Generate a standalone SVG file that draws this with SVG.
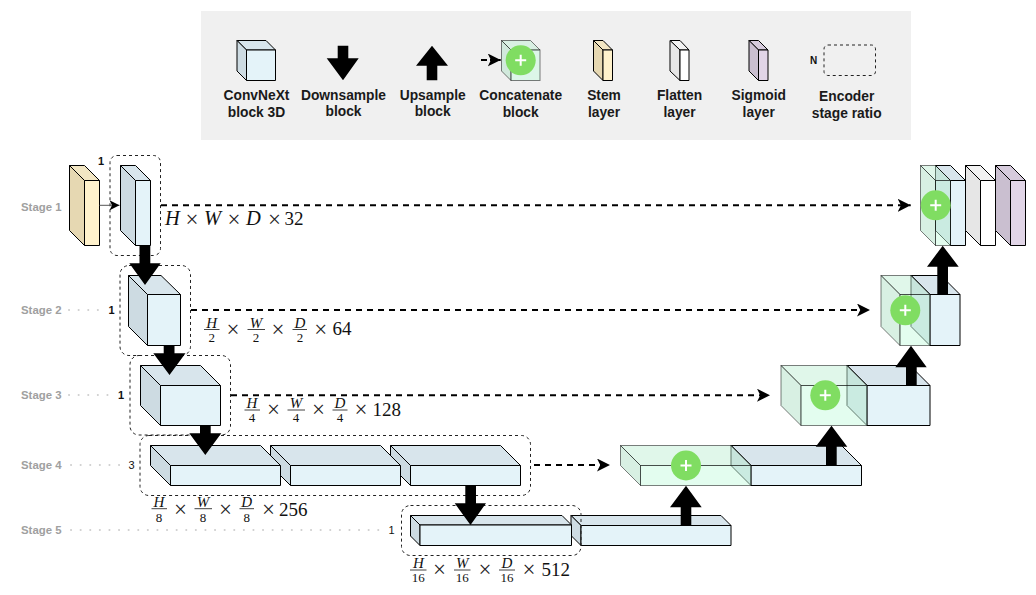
<svg xmlns="http://www.w3.org/2000/svg" width="1036" height="595" viewBox="0 0 1036 595">
<style>
text{font-family:"Liberation Sans",Arial,sans-serif}
.lg{font-size:13.8px;font-weight:bold;text-anchor:middle;fill:#1a1a1a}
.st{font-size:11.4px;font-weight:bold;fill:#a0a0a0}
.n{font-size:11px;font-weight:bold;text-anchor:middle;fill:#111}
.m,.mi,.mx,.f,.fi{font-family:"Liberation Serif","Times New Roman",serif;fill:#111}
.m{font-size:19px}
.mi{font-size:20.500px;font-style:italic}
.mx{font-size:23px;text-anchor:middle;fill:#222}
.f,.fi{text-anchor:middle}
.f{font-size:13px}
.fi{font-size:15px;font-style:italic}
.bar{stroke:#111;stroke-width:.8;fill:none}
.s{stroke:#000;stroke-width:1;stroke-linejoin:round}
.bf{fill:#e4f3f9}.bt{fill:#d8e5ec}.bl{fill:#cddbe2}
.sf{fill:#fff2cc}.st2{fill:#f2e6c3}.sl{fill:#e6d8b2}
.ff{fill:#fff}.ft{fill:#f2f2f2}.fl{fill:#e6e6e6}
.gf{fill:#e1d5e7}.gt{fill:#d6cbdc}.gl{fill:#cabfd0}
.c{stroke:#000;stroke-opacity:.5;stroke-width:1}
.cf{fill:#c7fbdf;fill-opacity:.5}.ct{fill:#c1efd5;fill-opacity:.5}.cl{fill:#b1e1c7;fill-opacity:.5}
.dot{fill:#80dd62}
.plus{stroke:#fff;stroke-width:2;fill:none}
.box{fill:none;stroke:#222;stroke-width:1;stroke-dasharray:3 3}
.dash{fill:none;stroke:#000;stroke-width:2;stroke-dasharray:6 5;marker-end:url(#stealth)}
.guide{fill:none;stroke:#cfcfcf;stroke-width:2;stroke-dasharray:.1 9.500;stroke-linecap:round}
.fat{fill:#000}
</style>
<defs>
<marker id="stealth" markerUnits="userSpaceOnUse" markerWidth="13" markerHeight="13" viewBox="0 0 12 12" refX="12" refY="6" orient="auto"><path d="M0 0L12 6L0 12L3 6z" fill="#000"/></marker>
<marker id="small" markerUnits="userSpaceOnUse" markerWidth="10" markerHeight="10" viewBox="0 0 10 10" refX="10" refY="5" orient="auto"><path d="M0 0L10 5L0 10L2.500 5z" fill="#000"/></marker>
</defs>

<g id="legend">
<rect x="201" y="11" width="710" height="129" fill="#f0f0f0"/>
<g id="legend-convnext" class="s">
<path class="bt" d="M237 40.500H266L275.500 50H246.500z"/><path class="bl" d="M237 40.500L246.500 50V80.500L237 71z"/><rect class="bf" x="246.500" y="50" width="29" height="30.500"/>
</g>
<text class="lg" x="256.500" y="100">ConvNeXt</text><text class="lg" x="256.500" y="116.500">block 3D</text>
<g id="legend-down"><path class="fat" d="M337.700 45.700H348.300V58.300H358.700L343 80.300L326.700 58.300H337.700z"/></g>
<text class="lg" x="343.500" y="99.500">Downsample</text><text class="lg" x="343.500" y="116">block</text>
<g id="legend-up"><path class="fat" d="M432 45.700L448 65.700H437.300V80.300H426.700V65.700H416z"/></g>
<text class="lg" x="432.700" y="99.500">Upsample</text><text class="lg" x="432.700" y="116">block</text>
<g id="legend-concat">
<path d="M481 60H500.700" fill="none" stroke="#000" stroke-width="2" stroke-dasharray="6 3" marker-end="url(#stealth)"/>
<g class="c"><path class="ct" d="M501.500 40.500H530.500L540 50H511z"/><path class="cl" d="M501.500 40.500L511 50V80.500L501.500 71z"/><rect class="cf" x="511" y="50" width="29" height="30.500"/></g>
<circle class="dot" cx="520.700" cy="60.300" r="15"/><path class="plus" d="M515.200 60.300H526.200M520.700 54.800V65.800"/>
</g>
<text class="lg" x="520.700" y="100">Concatenate</text><text class="lg" x="520.700" y="116.500">block</text>
<g id="legend-stem" class="s"><path class="st2" d="M593.500 40.500H603L612.500 50H603z"/><path class="sl" d="M593.500 40.500L603 50V80.500L593.500 71z"/><rect class="sf" x="603" y="50" width="9.500" height="30.500"/></g>
<text class="lg" x="604" y="100">Stem</text><text class="lg" x="604" y="116.500">layer</text>
<g id="legend-flatten" class="s"><path class="ft" d="M670 40.500H680L689 50H680z"/><path class="fl" d="M670 40.500L680 50V80.500L670 71z"/><rect class="ff" x="680" y="50" width="9" height="30.500"/></g>
<text class="lg" x="679.500" y="100">Flatten</text><text class="lg" x="679.500" y="116.500">layer</text>
<g id="legend-sigmoid" class="s"><path class="gt" d="M749 40.500H758.500L768 50H758.500z"/><path class="gl" d="M749 40.500L758.500 50V80.500L749 71z"/><rect class="gf" x="758.500" y="50" width="9.500" height="30.500"/></g>
<text class="lg" x="758.700" y="100">Sigmoid</text><text class="lg" x="758.700" y="116.500">layer</text>
<g id="legend-ratio"><rect class="box" x="824" y="45" width="51.500" height="30.500" rx="4"/><text class="n" x="813.500" y="63.500" style="font-size:10px">N</text></g>
<text class="lg" x="846.700" y="101">Encoder</text><text class="lg" x="846.700" y="117.500">stage ratio</text>
</g>

<g id="stage-labels">
<text class="st" x="21" y="210.500">Stage 1</text>
<text class="st" x="21" y="313.500">Stage 2</text>
<text class="st" x="21" y="399">Stage 3</text>
<text class="st" x="21" y="468.500">Stage 4</text>
<text class="st" x="21" y="533.500">Stage 5</text>
<path class="guide" d="M69 310H103M69 395H112M71 465H124M71 530H386"/>
<text class="n" x="101" y="165">1</text>
<text class="n" x="111.500" y="313.500">1</text>
<text class="n" x="121" y="399">1</text>
<text class="n" x="131.500" y="468.500" style="font-weight:normal">3</text>
<text class="n" x="391.500" y="533.500" style="font-weight:normal">1</text>
</g>

<g id="stem" class="s"><path class="st2" d="M69.500 165.500H84.500L99.500 180.500H84.500z"/><path class="sl" d="M69.500 165.500L84.500 180.500V245.500L69.500 230.500z"/><rect class="sf" x="84.500" y="180.500" width="15" height="65"/></g>
<g id="enc1" class="s"><path class="bt" d="M120.500 165.500H135.500L150.500 180.500H135.500z"/><path class="bl" d="M120.500 165.500L135.500 180.500V245.500L120.500 230.500z"/><rect class="bf" x="135.500" y="180.500" width="15" height="65"/></g>
<g id="enc2" class="s"><path class="bt" d="M128.500 275.500H161L180.500 294.500H147.500z"/><path class="bl" d="M128.500 275.500L147.500 294.500V345.500L128.500 326.500z"/><rect class="bf" x="147.500" y="294.500" width="33" height="51"/></g>
<g id="enc3" class="s"><path class="bt" d="M140.500 365.500H200.500L220.500 385.500H160.500z"/><path class="bl" d="M140.500 365.500L160.500 385.500V425.500L140.500 405.500z"/><rect class="bf" x="160.500" y="385.500" width="60" height="40"/></g>
<g id="enc4c" class="s"><path class="bt" d="M390.500 445.500H500.500L520.500 465.500H410.500z"/><path class="bl" d="M390.500 445.500L410.500 465.500V485.500L390.500 465.500z"/><rect class="bf" x="410.500" y="465.500" width="110" height="20"/></g>
<g id="enc4b" class="s"><path class="bt" d="M270.500 445.500H380.500L400.500 465.500H290.500z"/><path class="bl" d="M270.500 445.500L290.500 465.500V485.500L270.500 465.500z"/><rect class="bf" x="290.500" y="465.500" width="110" height="20"/></g>
<g id="enc4a" class="s"><path class="bt" d="M150.500 445.500H260.500L280.500 465.500H170.500z"/><path class="bl" d="M150.500 445.500L170.500 465.500V485.500L150.500 465.500z"/><rect class="bf" x="170.500" y="465.500" width="110" height="20"/></g>
<g id="dec5" class="s"><path class="bt" d="M571 515.500H721L731 525.500H581z"/><path class="bl" d="M571 515.500L581 525.500V545.500L571 535.500z"/><rect class="bf" x="581" y="525.500" width="150" height="20"/></g>
<g id="enc5" class="s"><path class="bt" d="M410.500 515.500H562L571.500 525H420z"/><path class="bl" d="M410.500 515.500L420 525V545.500L410.500 536z"/><rect class="bf" x="420" y="525" width="151.500" height="20.500"/></g>

<g id="dec4" class="s"><path class="bt" d="M731 445.500H841.500L861.500 465.500H751z"/><path class="bl" d="M731 445.500L751 465.500V485.500L731 465.500z"/><rect class="bf" x="751" y="465.500" width="110.500" height="20"/></g>
<g id="con4"><g class="c"><path class="ct" d="M620.500 445.500H731L751 465.500H640.500z"/><path class="cl" d="M620.500 445.500L640.500 465.500V485.500L620.500 465.500z"/><rect class="cf" x="640.500" y="465.500" width="110.500" height="20"/></g><circle class="dot" cx="686" cy="465.500" r="15"/><path class="plus" d="M680.500 465.500H691.500M686 460V471"/></g>
<g id="dec3" class="s"><path class="bt" d="M847 365.500H910L930 385.500H867z"/><path class="bl" d="M847 365.500L867 385.500V425.500L847 405.500z"/><rect class="bf" x="867" y="385.500" width="63" height="40"/></g>
<g id="con3"><g class="c"><path class="ct" d="M781 365.500H847L867 385.500H801z"/><path class="cl" d="M781 365.500L801 385.500V425.500L781 405.500z"/><rect class="cf" x="801" y="385.500" width="66" height="40"/></g><circle class="dot" cx="825.300" cy="395.300" r="15"/><path class="plus" d="M819.800 395.300H830.800M825.300 389.800V400.800"/></g>
<g id="dec2" class="s"><path class="bt" d="M911 275.500H941L960 294.500H930z"/><path class="bl" d="M911 275.500L930 294.500V345.500L911 326.500z"/><rect class="bf" x="930" y="294.500" width="30" height="51"/></g>
<g id="con2"><g class="c"><path class="ct" d="M881 275.500H911L930 294.500H900z"/><path class="cl" d="M881 275.500L900 294.500V345.500L881 326.500z"/><rect class="cf" x="900" y="294.500" width="30" height="51"/></g><circle class="dot" cx="905.300" cy="310.300" r="15"/><path class="plus" d="M899.800 310.300H910.800M905.300 304.800V315.800"/></g>
<g id="dec1" class="s"><path class="bt" d="M935.500 165.500H950.500L965.500 180.500H950.500z"/><path class="bl" d="M935.500 165.500L950.500 180.500V245.500L935.500 230.500z"/><rect class="bf" x="950.500" y="180.500" width="15" height="65"/></g>
<g id="con1"><g class="c"><path class="ct" d="M920.500 165.500H935.500L950.500 180.500H935.500z"/><path class="cl" d="M920.500 165.500L935.500 180.500V245.500L920.500 230.500z"/><rect class="cf" x="935.500" y="180.500" width="15" height="65"/></g><circle class="dot" cx="935.700" cy="205.300" r="15"/><path class="plus" d="M930.200 205.300H941.200M935.700 199.800V210.800"/></g>
<g id="flatten" class="s"><path class="ft" d="M965.500 165.500H980.500L995.500 180.500H980.500z"/><path class="fl" d="M965.500 165.500L980.500 180.500V245.500L965.500 230.500z"/><rect class="ff" x="980.500" y="180.500" width="15" height="65"/></g>
<g id="sigmoid" class="s"><path class="gt" d="M995.500 165.500H1010.500L1025.500 180.500H1010.500z"/><path class="gl" d="M995.500 165.500L1010.500 180.500V245.500L995.500 230.500z"/><rect class="gf" x="1010.500" y="180.500" width="15" height="65"/></g>

<g id="ratio-boxes">
<rect class="box" x="110" y="155.500" width="50.500" height="100" rx="7"/>
<rect class="box" x="120" y="265.500" width="70.500" height="90" rx="9"/>
<rect class="box" x="130" y="355.500" width="100.500" height="79.500" rx="9"/>
<rect class="box" x="140" y="435.500" width="390.500" height="60" rx="9"/>
<rect class="box" x="401.500" y="505.500" width="179.500" height="50" rx="9"/>
</g>

<g id="connectors">
<path d="M99.500 205.300H119.500" fill="none" stroke="#555" stroke-width="1" marker-end="url(#small)"/>
<path class="dash" d="M161 205.300H910.700"/>
<path class="dash" d="M191 310H870"/>
<path class="dash" d="M231 395.200H770"/>
<path class="dash" d="M534 465H610"/>
<path class="fat" d="M139.500 245.500H150.300V263.300H160.700L145 285L129.300 263.300H139.500z"/>
<path class="fat" d="M163.700 345.500H174.500V353.300H185.500L169.500 375L153.300 353.300H163.700z"/>
<path class="fat" d="M200 425.500H210.700V433.300H221.300L205.300 455L189.300 433.300H200z"/>
<path class="fat" d="M465.300 485.500H476V503.300H486L470.500 525L454.700 503.300H465.300z"/>
<path class="fat" d="M686 485.700L701.700 507.300H691.300V525.500H680.700V507.300H670z"/>
<path class="fat" d="M831.500 425.700L847.300 446.700H836.700V465.500H826V446.700H815.700z"/>
<path class="fat" d="M911 345.700L926.700 367.300H916.700V385.500H906V367.300H895.300z"/>
<path class="fat" d="M942.700 245.700L958.700 266.700H948V295H937.300V266.700H927z"/>
</g>

<g id="dim1">
<text class="mi" x="165" y="225">H</text><text class="mx" x="192" y="226.500">×</text><text class="mi" x="204" y="225">W</text><text class="mx" x="234" y="226.500">×</text><text class="mi" x="246" y="225">D</text><text class="mx" x="274.500" y="226.500">×</text><text class="m" x="284.500" y="225">32</text>
</g>
<g id="dim2">
<text class="fi" x="211.700" y="327.500">H</text><path class="bar" d="M204 329.500H219.500"/><text class="f" x="211.700" y="341.500">2</text>
<text class="mx" x="233" y="336.500">×</text>
<text class="fi" x="256" y="327.500">W</text><path class="bar" d="M247.500 329.500H265"/><text class="f" x="256" y="341.500">2</text>
<text class="mx" x="278" y="336.500">×</text>
<text class="fi" x="300" y="327.500">D</text><path class="bar" d="M292.500 329.500H307"/><text class="f" x="300" y="341.500">2</text>
<text class="mx" x="320.700" y="336.500">×</text><text class="m" x="332.500" y="335">64</text>
</g>
<g id="dim3">
<text class="fi" x="252" y="408">H</text><path class="bar" d="M244.500 410H260"/><text class="f" x="252" y="421.700">4</text>
<text class="mx" x="273.500" y="417">×</text>
<text class="fi" x="296" y="408">W</text><path class="bar" d="M287.500 410H305"/><text class="f" x="296" y="421.700">4</text>
<text class="mx" x="318.500" y="417">×</text>
<text class="fi" x="340" y="408">D</text><path class="bar" d="M332.500 410H347.500"/><text class="f" x="340" y="421.700">4</text>
<text class="mx" x="361" y="417">×</text><text class="m" x="372.500" y="415.500">128</text>
</g>
<g id="dim4">
<text class="fi" x="159" y="507">H</text><path class="bar" d="M151.500 508.700H167"/><text class="f" x="159" y="521.700">8</text>
<text class="mx" x="180.500" y="517.200">×</text>
<text class="fi" x="203" y="507">W</text><path class="bar" d="M194.500 508.700H212"/><text class="f" x="203" y="521.700">8</text>
<text class="mx" x="225.500" y="517.200">×</text>
<text class="fi" x="246.700" y="507">D</text><path class="bar" d="M239.500 508.700H254"/><text class="f" x="246.700" y="521.700">8</text>
<text class="mx" x="268.500" y="517.200">×</text><text class="m" x="279" y="515.700">256</text>
</g>
<g id="dim5">
<text class="fi" x="418.300" y="568">H</text><path class="bar" d="M410 570H426.500"/><text class="f" x="418.300" y="582">16</text>
<text class="mx" x="439.500" y="577">×</text>
<text class="fi" x="462.300" y="568">W</text><path class="bar" d="M454 570H470.500"/><text class="f" x="462.300" y="582">16</text>
<text class="mx" x="485" y="577">×</text>
<text class="fi" x="507" y="568">D</text><path class="bar" d="M499 570H515"/><text class="f" x="507" y="582">16</text>
<text class="mx" x="529" y="577">×</text><text class="m" x="541.500" y="575.500">512</text>
</g>
</svg>
